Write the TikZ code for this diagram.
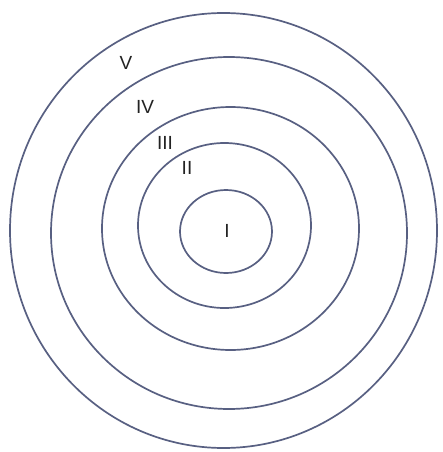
\documentclass[tikz,border=0pt]{standalone}
\usepackage{fontspec}
\setmainfont{Liberation Sans}
\definecolor{ring}{RGB}{88,96,130}
\definecolor{lbl}{RGB}{35,35,35}
\begin{document}
\begin{tikzpicture}[x=1pt,y=-1pt,
  ringline/.style={draw=ring,line width=1.7pt},
  lab/.style={text=lbl,font=\fontsize{19}{19}\selectfont,inner sep=0pt}]
\useasboundingbox[fill=white] (0,0) rectangle (442,452);
\draw[ringline] (223.5,230.5) ellipse [x radius=213.5, y radius=217.5];
\draw[ringline] (229,233) ellipse [x radius=178, y radius=176];
\draw[ringline] (230.5,228.5) ellipse [x radius=128.5, y radius=121.5];
\draw[ringline] (224.5,225.5) ellipse [x radius=86.5, y radius=82.5];
\draw[ringline] (226,231.5) ellipse [x radius=46, y radius=41.5];
\node[lab] (v) at (126,63) {V};
\node[lab] (iv) at (145,107) {IV};
\node[lab] (iii) at (165,143) {III};
\node[lab] (ii) at (187,168) {II};
\node[lab] (i) at (227,231) {I};
\end{tikzpicture}
\end{document}
